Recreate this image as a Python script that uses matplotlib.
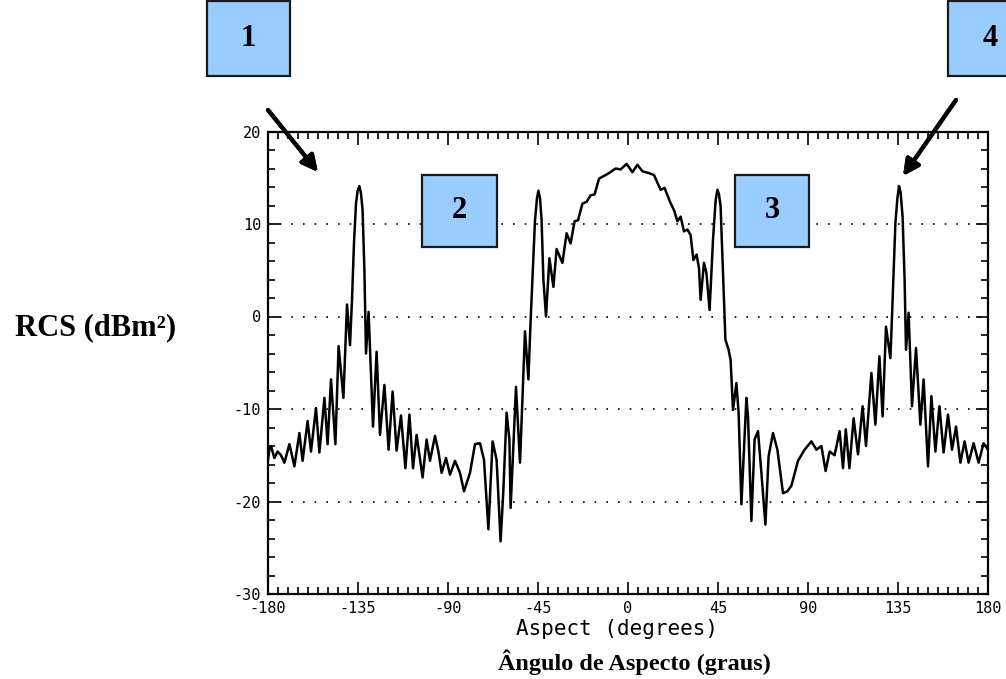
import matplotlib
matplotlib.use("Agg")
import matplotlib.pyplot as plt
from matplotlib.patches import Rectangle
from matplotlib.ticker import MultipleLocator

# --- curve, split into angular sectors ------------------------------------
ang_a = [-180, -179.3, -178.5, -176.8, -175.2, -173.5, -171.8, -169.3, -166.8,
         -164.3, -162.7, -160.2, -158.5, -156, -154.3, -151.8, -150.2, -148.5,
         -146.3, -144.7, -142.3, -140.5, -139, -138, -137, -136, -135.2, -134.3,
         -133.5, -132.7, -131.8, -131, -129.7, -127.5, -125.7, -124, -121.8,
         -119.7, -117.7, -115.7, -113.5, -111.3, -109.3]
rcs_a = [-15.5, -14.4, -14.0, -15.3, -14.6, -15.0, -15.8, -13.8, -16.2,
         -12.6, -15.6, -11.3, -14.6, -9.9, -14.7, -8.8, -13.8, -6.8,
         -13.8, -3.2, -8.8, 1.3, -3.1, 1.8, 8.0, 12.2, 13.6, 14.1,
         13.3, 11.5, 5.0, -4.0, 0.5, -11.9, -3.8, -12.8, -7.4,
         -14.4, -8.1, -14.5, -10.7, -16.4, -10.6]

ang_b = [-107.5, -105.7, -102.7, -100.7, -99, -96.5, -94.8, -93.2, -91, -89,
         -86.5, -84, -82, -79, -76.5, -74, -72, -69.8, -67.7, -65.7, -63.7,
         -62.3, -60.7, -59.3, -58.7, -56, -54, -51.5, -49.8, -48.7, -46.5,
         -45.5, -44.8, -44, -43.2, -42.3, -41, -39.3, -37.3]
rcs_b = [-16.4, -12.8, -17.4, -13.3, -15.6, -12.9, -14.6, -16.9, -15.3, -17.1,
         -15.6, -16.9, -18.9, -16.9, -13.8, -13.7, -15.5, -23.0, -13.5, -15.5, -24.3,
         -18.7, -10.4, -13.3, -20.7, -7.6, -15.8, -1.6, -6.8, -0.5, 10.4,
         12.8, 13.6, 12.8, 10.4, 4.0, 0.0, 6.3, 3.2]

ang_c = [-35.7, -32.8, -30.7, -28.7, -26.7, -25, -22.8, -20.7, -18.7, -16.7,
         -14.5, -12, -9.5, -6.2, -3.7, -0.7, 2.2, 4.7, 7.2, 10.5, 13, 16.3,
         18.3, 21, 23, 24.7, 26.3, 28, 29.7, 31.3, 32.7, 34.3, 35.5]
rcs_c = [7.3, 5.8, 9.0, 7.9, 10.3, 10.4, 12.2, 12.4, 13.1, 13.2,
         14.9, 15.2, 15.5, 16.0, 15.9, 16.5, 15.6, 16.4, 15.7, 15.5, 15.3, 13.7,
         13.9, 12.4, 11.5, 10.3, 10.8, 9.2, 9.4, 8.8, 6.1, 6.7, 5.2]

ang_d = [36.3, 38, 39.2, 40.8, 42.5, 43.8, 44.7, 45.5, 46.3, 47.5, 48.7, 50.3,
         51.3, 52.5, 54.2, 55.3, 56.7, 59.2, 60, 61.7, 63.3, 65, 66.7, 68.7,
         70.3, 72.5, 74.7, 77.5, 79.7, 81.7, 85, 88.3, 91.7, 94.2, 96.7, 98.8,
         100.8, 103.3, 105.8]
rcs_d = [1.8, 5.8, 4.7, 0.7, 8.3, 12.5, 13.7, 13.2, 11.9, 4.7, -2.5, -3.6,
         -4.7, -10.1, -7.2, -10.4, -20.3, -8.8, -10.8, -22.1, -13.3, -12.4, -16.9, -22.5,
         -15.1, -12.6, -14.4, -19.1, -18.9, -18.3, -15.6, -14.4, -13.5, -14.4, -14.0, -16.7,
         -14.6, -15.0, -12.4]

ang_e = [107.5, 108.9, 110.7, 112.8, 115, 117.3, 119, 121.7, 123.7, 125.7,
         127.3, 129, 131.2, 132, 133.7, 134.7, 135.5, 136.3, 137.3, 138.3, 139,
         140.3, 142, 144, 146.2, 147.8, 150, 151.7, 153.7, 155.7, 157.8, 160,
         162, 164, 166.2, 168.3, 170.3, 172.8, 175.3, 177.8, 180]
rcs_e = [-16.4, -12.2, -16.4, -11.0, -14.9, -9.7, -14.0, -6.1, -11.7, -4.3,
         -10.8, -1.1, -4.5, 0.0, 10.1, 12.8, 14.1, 13.4, 10.8, 4.0, -3.6,
         0.4, -9.7, -3.4, -11.7, -6.8, -16.2, -8.6, -14.6, -9.7, -14.7, -10.6,
         -14.4, -11.9, -15.8, -13.5, -15.8, -13.7, -15.8, -13.7, -14.4]

angle = ang_a + ang_b + ang_c + ang_d + ang_e
rcs = rcs_a + rcs_b + rcs_c + rcs_d + rcs_e

x_ticks = [-180, -135, -90, -45, 0, 45, 90, 135, 180]
x_tick_labels = ["-180", "-135", "-90", "-45", "0", "45", "90", "135", "180"]
y_ticks = [-30, -20, -10, 0, 10, 20]
y_tick_labels = ["-30", "-20", "-10", "0", "10", "20"]
grid_levels = [-20, -10, 0, 10]
box_labels = ["1", "2", "3", "4"]

W, H = 1006, 679
fig = plt.figure(figsize=(W / 100, H / 100), dpi=100)
ax = fig.add_axes([268 / W, 1 - 594 / H, 720 / W, (594 - 131.5) / H])

for g in grid_levels:
    ax.axhline(g, color="black", lw=1.2, ls=(0, (1, 6)), zorder=1)
ax.plot(angle, rcs, color="black", lw=1.8, solid_joinstyle="round", zorder=3)

ax.set_xlim(-180, 180)
ax.set_ylim(-30, 20)
ax.set_xticks(x_ticks)
ax.set_xticklabels(x_tick_labels, family="DejaVu Sans Mono", fontsize=11)
ax.set_yticks(y_ticks)
ax.set_yticklabels(y_tick_labels, family="DejaVu Sans Mono", fontsize=11)
ax.xaxis.set_minor_locator(MultipleLocator(5))
ax.yaxis.set_minor_locator(MultipleLocator(2))
ax.tick_params(which="both", direction="in", top=True, right=True, width=1.2)
ax.tick_params(axis="x", pad=5)
ax.tick_params(axis="y", pad=5)
ax.tick_params(which="major", length=9)
ax.tick_params(which="minor", length=5)
for s in ax.spines.values():
    s.set_linewidth(1.6)

fig.text(617 / W, 1 - 629 / H, "Aspect (degrees)", ha="center", va="center",
         family="DejaVu Sans Mono", fontsize=15)

# outer (Portuguese) labels
fig.text(96 / W, 1 - 328 / H, "RCS (dBm²)", ha="center", va="center",
         family="Liberation Serif", fontweight="bold", fontsize=22)
fig.text(634 / W, 1 - 662 / H, "Ângulo de Aspecto (graus)", ha="center", va="center",
         family="Liberation Serif", fontweight="bold", fontsize=17.5)

# numbered boxes (pixel coords, origin top-left)
boxes = [(207, 1, 290, 76), (422, 175, 497, 247), (735, 175, 809, 247), (948, 1, 1012, 76)]
for (x0, y0, x1, y1), lab in zip(boxes, box_labels):
    fig.add_artist(Rectangle((x0 / W, 1 - y1 / H), (x1 - x0) / W, (y1 - y0) / H,
                             transform=fig.transFigure, facecolor="#99ccff",
                             edgecolor="#1a1a1a", lw=1.6))
    cx = (x0 + x1) / 2 if lab != "4" else 990
    fig.text(cx / W, 1 - (y0 + y1) / 2 / H, lab, ha="center", va="center",
             family="Liberation Serif", fontweight="bold", fontsize=22)

# arrows pointing to the specular peaks
for tail, tip in [((268, 110), (318, 172)), ((956, 100), (903, 176))]:
    fig.add_artist(plt.annotate("", xy=(tip[0], H - tip[1]), xytext=(tail[0], H - tail[1]),
                                xycoords="figure pixels", textcoords="figure pixels",
                                arrowprops=dict(arrowstyle="-|>", lw=3, color="black",
                                                mutation_scale=24, shrinkA=0, shrinkB=0)))

fig.savefig("out.png", dpi=100)
